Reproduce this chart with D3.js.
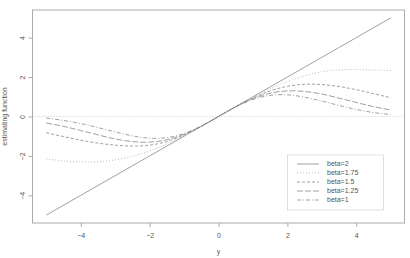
<!DOCTYPE html>
<html>
<head>
<meta charset="utf-8">
<script src="https://cdn.jsdelivr.net/npm/d3@7"></script>
<style>
  body { margin: 0; background: #fff; }
  text { font-family: "Liberation Sans", Arial, sans-serif; fill: #555; }
</style>
</head>
<body>
<svg id="chart"></svg>
<script>
const width = 410;
const height = 258;

// values
const yGrid = [-5, -4.5, -4, -3.5, -3, -2.5, -2, -1.5, -1, -0.5, 0, 0.5, 1, 1.5, 2, 2.5, 3, 3.5, 4, 4.5, 5];
const beta2 = [-5, -4.5, -4, -3.5, -3, -2.5, -2, -1.5, -1, -0.5, 0, 0.5, 1, 1.5, 2, 2.5, 3, 3.5, 4, 4.5, 5];
const beta175 = [-2.15, -2.25, -2.3, -2.3, -2.2, -2.02, -1.75, -1.4, -0.97, -0.5, 0, 0.5, 0.97, 1.4, 1.77, 2.06, 2.27, 2.36, 2.38, 2.36, 2.33];
const beta15 = [-0.82, -1.02, -1.2, -1.35, -1.45, -1.5, -1.45, -1.27, -0.93, -0.5, 0, 0.5, 0.94, 1.3, 1.53, 1.63, 1.62, 1.52, 1.36, 1.16, 0.95];
const beta125 = [-0.33, -0.5, -0.71, -0.93, -1.14, -1.27, -1.3, -1.18, -0.9, -0.49, 0, 0.49, 0.9, 1.18, 1.3, 1.27, 1.14, 0.93, 0.71, 0.5, 0.33];
const beta1 = [-0.08, -0.2, -0.36, -0.56, -0.78, -0.98, -1.1, -1.07, -0.86, -0.48, 0, 0.48, 0.86, 1.07, 1.1, 0.98, 0.78, 0.56, 0.36, 0.2, 0.1];

const seriesLabels = ['beta=2', 'beta=1.75', 'beta=1.5', 'beta=1.25', 'beta=1'];
const seriesValues = [beta2, beta175, beta15, beta125, beta1];
const xTicks = [-4, -2, 0, 2, 4];
const yTicks = [-4, -2, 0, 2, 4];

const dashes = [null, '1,2', '3,2', '6,2', '4,2,1,2'];
const strokes = ['#888', '#aaa', '#888', '#888', '#888'];

const svg = d3.select('#chart')
    .attr('width', width)
    .attr('height', height);

const x = d3.scaleLinear().domain([-5.4, 5.4]).range([32.5, 404.5]);
const y = d3.scaleLinear().domain([-5.4, 5.4]).range([223, 10]);

// zero reference line
svg.append('line')
    .attr('x1', x.range()[0]).attr('x2', x.range()[1])
    .attr('y1', y(0)).attr('y2', y(0))
    .attr('stroke', '#bbb')
    .attr('stroke-width', 0.8)
    .attr('stroke-dasharray', '1,2');

const line = d3.line()
    .x(d => x(d[0]))
    .y(d => y(d[1]))
    .curve(d3.curveNatural);

seriesValues.forEach((vals, i) => {
    svg.append('path')
        .datum(yGrid.map((g, j) => [g, vals[j]]))
        .attr('fill', 'none')
        .attr('stroke', strokes[i])
        .attr('stroke-width', 0.8)
        .attr('stroke-dasharray', dashes[i])
        .attr('d', line);
});

// box
svg.append('rect')
    .attr('x', x.range()[0]).attr('y', y.range()[1])
    .attr('width', x.range()[1] - x.range()[0])
    .attr('height', y.range()[0] - y.range()[1])
    .attr('fill', 'none')
    .attr('stroke', '#aaa')
    .attr('stroke-width', 1);

const xAxis = svg.append('g')
    .attr('transform', `translate(0, ${y.range()[0]})`)
    .call(d3.axisBottom(x).tickValues(xTicks).tickSize(4).tickPadding(6).tickFormat(d3.format('d')));

const yAxis = svg.append('g')
    .attr('transform', `translate(${x.range()[0]}, 0)`)
    .call(d3.axisLeft(y).tickValues(yTicks).tickSize(4).tickFormat(d3.format('d')));

[xAxis, yAxis].forEach(a => {
    a.select('.domain').remove();
    a.selectAll('.tick line').attr('stroke', '#aaa');
    a.selectAll('.tick text').style('font-size', '7px').attr('fill', '#555');
});

yAxis.selectAll('.tick text')
    .attr('x', null).attr('dy', null)
    .attr('text-anchor', 'middle')
    .attr('transform', 'translate(-8, 0) rotate(-90)');

svg.append('text')
    .attr('x', x(0)).attr('y', 254)
    .attr('text-anchor', 'middle')
    .style('font-size', '7px')
    .text('y');

svg.append('text')
    .attr('transform', `translate(7, ${y(0)}) rotate(-90)`)
    .attr('text-anchor', 'middle')
    .style('font-size', '7px')
    .text('estimating function');

// legend
const legend = svg.append('g');
legend.append('rect')
    .attr('x', 287.5).attr('y', 155)
    .attr('width', 96).attr('height', 55)
    .attr('fill', '#fff')
    .attr('stroke', '#ccc')
    .attr('stroke-width', 0.6);

seriesLabels.forEach((lab, i) => {
    const ly = 164 + i * 9;
    legend.append('line')
        .attr('x1', 297).attr('x2', 319)
        .attr('y1', ly).attr('y2', ly)
        .attr('stroke', strokes[i])
        .attr('stroke-width', 0.8)
        .attr('stroke-dasharray', dashes[i]);
    legend.append('text')
        .attr('x', 327).attr('y', ly)
        .attr('dy', '0.35em')
        .style('font-size', '7px')
        .text(lab);
});
</script>
</body>
</html>
